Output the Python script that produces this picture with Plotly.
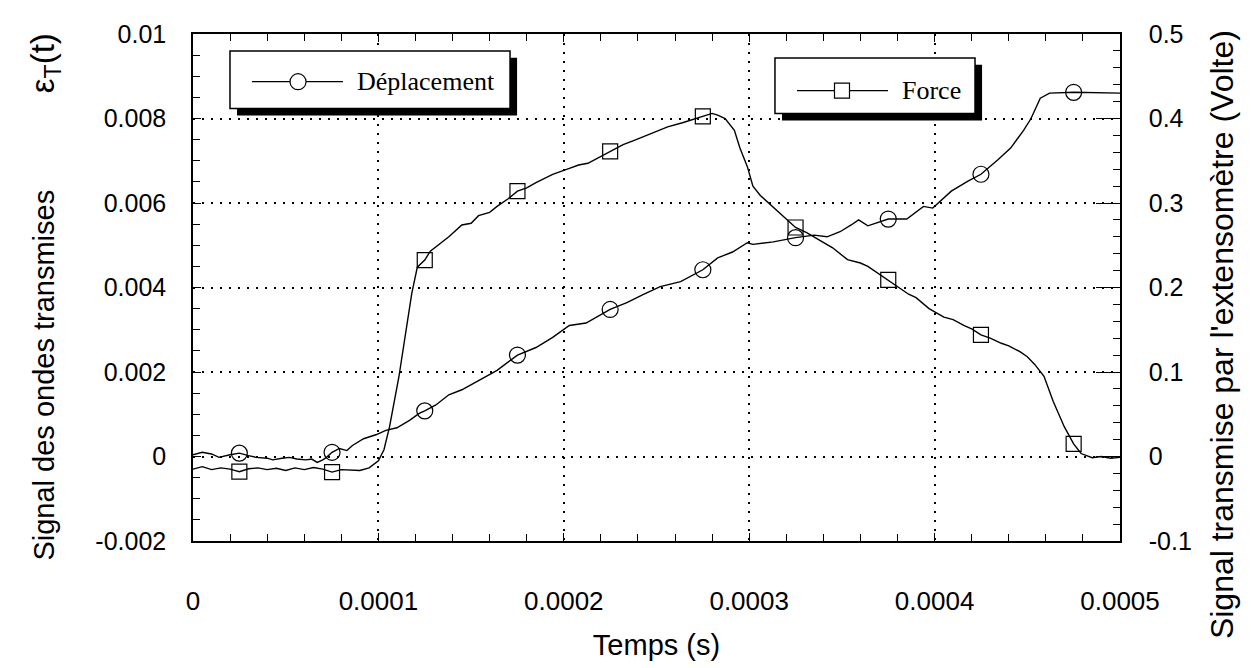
import plotly.graph_objects as go

# Force (onde transmise, axe gauche)
force_t = [0, 0.000005, 0.00001, 0.000015, 0.00002, 0.000025, 0.00003, 0.000035, 0.00004, 0.000045,
           0.00005, 0.000055, 0.00006, 0.000065, 0.00007, 0.000075, 0.00008, 0.000085, 0.00009, 0.000095,
           0.0001, 0.000103, 0.000106, 0.000111, 0.000115, 0.000118, 0.000121, 0.000125, 0.000128, 0.000133,
           0.000138, 0.000145, 0.00015, 0.000154, 0.00016, 0.000164, 0.00017, 0.000175, 0.00018, 0.000185,
           0.00019, 0.000194, 0.000203, 0.000208, 0.000213, 0.000221, 0.000225, 0.000232, 0.000238, 0.000246,
           0.00025, 0.000256, 0.000264, 0.00027, 0.000275, 0.00028, 0.000283, 0.000287, 0.000292, 0.000295,
           0.000299, 0.000302, 0.000306, 0.000311, 0.000317, 0.000321, 0.000325, 0.000331, 0.000338, 0.000345,
           0.000353, 0.00036, 0.000364, 0.00037, 0.000375, 0.00038, 0.000386, 0.00039, 0.000397, 0.000405,
           0.00041, 0.000416, 0.00042, 0.000425, 0.00043, 0.000436, 0.00044, 0.000446, 0.00045, 0.000454,
           0.000459, 0.000464, 0.00047, 0.000475, 0.000479, 0.000485, 0.00049, 0.000495, 0.0005]
force_v = [-0.00030, -0.00024, -0.00031, -0.00027, -0.00030, -0.00036, -0.00029, -0.00027, -0.00031, -0.00028,
           -0.00033, -0.00027, -0.00031, -0.00026, -0.00030, -0.00037, -0.00031, -0.00032, -0.00033, -0.00027,
           -0.00010, 0.00016, 0.00070, 0.00187, 0.00300, 0.00386, 0.00448, 0.00465, 0.00486, 0.00502,
           0.00520, 0.00548, 0.00552, 0.00570, 0.00578, 0.00592, 0.00610, 0.00628, 0.00636, 0.00648,
           0.00660, 0.00668, 0.00682, 0.00690, 0.00694, 0.00712, 0.00722, 0.00738, 0.00748, 0.00762,
           0.00770, 0.00780, 0.00790, 0.00798, 0.00805, 0.00812, 0.00808, 0.00800, 0.00772, 0.00730,
           0.00686, 0.00640, 0.00618, 0.00598, 0.00572, 0.00558, 0.00542, 0.00530, 0.00512, 0.00494,
           0.00466, 0.00458, 0.00450, 0.00432, 0.00418, 0.00402, 0.00384, 0.00376, 0.00350, 0.00330,
           0.00324, 0.00310, 0.00302, 0.00288, 0.00280, 0.00268, 0.00262, 0.00248, 0.00236, 0.00218,
           0.00190, 0.00130, 0.00070, 0.00030, 0.00007, -0.00003, 0.00000, -0.00004, -0.00002]

# Déplacement (extensomètre, axe droit, Volte)
depl_t = [0, 0.000005, 0.00001, 0.000014, 0.00002, 0.000025, 0.00003, 0.000034, 0.00004, 0.000043,
          0.000048, 0.000052, 0.000056, 0.000061, 0.000064, 0.000067, 0.00007, 0.000072, 0.000075, 0.000079,
          0.000083, 0.000086, 0.000092, 0.000099, 0.000104, 0.00011, 0.000117, 0.000122, 0.000125, 0.000131,
          0.000138, 0.000145, 0.000155, 0.000164, 0.000175, 0.000185, 0.000194, 0.000203, 0.000212, 0.000221,
          0.000225, 0.000234, 0.000243, 0.000252, 0.000263, 0.000275, 0.000283, 0.000291, 0.000299, 0.000302,
          0.000313, 0.000325, 0.000335, 0.000342, 0.000349, 0.000355, 0.000359, 0.000364, 0.000375, 0.000385,
          0.000394, 0.000399, 0.000409, 0.000418, 0.000425, 0.000434, 0.000441, 0.000448, 0.000452, 0.000457,
          0.000462, 0.000475, 0.00049, 0.0005]
depl_v = [0.002, 0.005, 0.003, -0.001, 0.002, 0.004, 0.001, -0.001, -0.002, -0.004,
          -0.002, -0.001, -0.003, -0.004, -0.003, -0.007, -0.004, -0.001, 0.005, 0.0095,
          0.007, 0.013, 0.021, 0.026, 0.031, 0.034, 0.043, 0.051, 0.054, 0.061,
          0.073, 0.079, 0.091, 0.102, 0.120, 0.129, 0.141, 0.155, 0.158, 0.169,
          0.174, 0.182, 0.192, 0.201, 0.207, 0.221, 0.235, 0.242, 0.253, 0.251,
          0.254, 0.259, 0.262, 0.260, 0.266, 0.274, 0.280, 0.273, 0.281, 0.281,
          0.296, 0.294, 0.314, 0.326, 0.334, 0.351, 0.365, 0.386, 0.400, 0.424,
          0.430, 0.431, 0.430, 0.430]

marker_t = [0.000025, 0.000075, 0.000125, 0.000175, 0.000225,
            0.000275, 0.000325, 0.000375, 0.000425, 0.000475]

x_ticks = [0, 0.0001, 0.0002, 0.0003, 0.0004, 0.0005]
x_labels = ["0", "0.0001", "0.0002", "0.0003", "0.0004", "0.0005"]
y_ticks = [-0.002, 0, 0.002, 0.004, 0.006, 0.008, 0.01]
y_labels = ["-0.002", "0", "0.002", "0.004", "0.006", "0.008", "0.01"]
y2_ticks = [-0.1, 0, 0.1, 0.2, 0.3, 0.4, 0.5]
y2_labels = ["-0.1", "0", "0.1", "0.2", "0.3", "0.4", "0.5"]


def pick(ts, vs, wanted):
    d = {round(t * 1e7): v for t, v in zip(ts, vs)}
    return [d[round(t * 1e7)] for t in wanted]


fig = go.Figure()
fig.add_trace(go.Scatter(x=force_t, y=force_v, mode="lines",
                         line=dict(color="black", width=1.4), showlegend=False))
fig.add_trace(go.Scatter(x=marker_t, y=pick(force_t, force_v, marker_t), mode="markers",
                         marker=dict(symbol="square-open", size=15, color="black", line=dict(width=1.2)),
                         showlegend=False))
fig.add_trace(go.Scatter(x=depl_t, y=depl_v, mode="lines", yaxis="y2",
                         line=dict(color="black", width=1.4), showlegend=False))
fig.add_trace(go.Scatter(x=marker_t, y=pick(depl_t, depl_v, marker_t), mode="markers", yaxis="y2",
                         marker=dict(symbol="circle-open", size=16, color="black", line=dict(width=1.2)),
                         showlegend=False))

ytickfont = dict(family="Liberation Sans", size=25, color="black")
xtickfont = dict(family="Liberation Sans", size=26, color="black")
titlefont = dict(family="Liberation Sans", size=29, color="black")
griddash = "2px,7px"

# la page ajoute une marge de 8 px autour du graphique
fig.update_layout(
    width=1243, height=660,
    margin=dict(l=185, r=131, t=25, b=125),
    plot_bgcolor="white", paper_bgcolor="white",
    xaxis=dict(range=[0, 0.0005], tickmode="array", tickvals=x_ticks, ticktext=x_labels,
               ticks="inside", ticklen=8, tickwidth=1.2, tickcolor="black",
               showline=True, linecolor="black", linewidth=1.5, mirror="ticks",
               showgrid=True, gridcolor="black", griddash=griddash, gridwidth=1.5,
               zeroline=False, tickfont=xtickfont, ticklabelstandoff=36,
               minor=dict(tickmode="linear", tick0=0, dtick=0.00002, ticks="inside",
                          ticklen=7, tickcolor="black", tickwidth=1.2, showgrid=False),
               title=dict(text="Temps (s)", font=titlefont, standoff=20)),
    yaxis=dict(range=[-0.002, 0.01], tickmode="array", tickvals=y_ticks, ticktext=y_labels,
               ticks="inside", ticklen=8, tickwidth=1.2, tickcolor="black",
               showline=True, linecolor="black", linewidth=1.5,
               showgrid=True, gridcolor="black", griddash=griddash, gridwidth=1.5,
               zeroline=False, tickfont=ytickfont, ticklabelstandoff=20,
               minor=dict(tickmode="linear", tick0=0, dtick=0.0005, ticks="inside",
                          ticklen=7, tickcolor="black", tickwidth=1.2, showgrid=False)),
    yaxis2=dict(range=[-0.1, 0.5], overlaying="y", side="right",
                tickmode="array", tickvals=y2_ticks, ticktext=y2_labels,
                ticks="inside", ticklen=24, tickwidth=1.2, tickcolor="black",
                showline=True, linecolor="black", linewidth=1.5,
                showgrid=False, zeroline=False, tickfont=ytickfont, ticklabelstandoff=22,
                minor=dict(tickmode="linear", tick0=0, dtick=0.02, ticks="inside",
                           ticklen=7, tickcolor="black", tickwidth=1.2, showgrid=False)),
)

# titres verticaux
fig.add_annotation(x=-0.1597, y=0.482, xref="paper", yref="paper", textangle=-90,
                   text="Signal des ondes transmises" + "\u00a0" * 12 +
                        "<span style='font-size:33px'>ε<sub>T</sub>(t)</span>",
                   showarrow=False, xanchor="center", yanchor="middle", font=titlefont)
fig.add_annotation(x=1.110, y=0.408, xref="paper", yref="paper", textangle=-90,
                   text="Signal transmise par l'extensomètre (Volte)",
                   showarrow=False, xanchor="center", yanchor="middle",
                   font=dict(family="Liberation Sans", size=32, color="black"))

# cadres de légende avec ombre
sx, sy = 0.0076, 0.0137
boxes = [(0.0399, 0.8529, 0.3420, 0.9667), (0.6278, 0.8431, 0.8436, 0.9529)]
shapes = []
for x0, y0, x1, y1 in boxes:
    shapes.append(dict(type="rect", xref="paper", yref="paper", x0=x0 + sx, x1=x1 + sx,
                       y0=y0 - sy, y1=y1 - sy, fillcolor="black", line=dict(width=0), layer="above"))
    shapes.append(dict(type="rect", xref="paper", yref="paper", x0=x0, x1=x1, y0=y0, y1=y1,
                       fillcolor="white", line=dict(color="black", width=1.5), layer="above"))

# Déplacement
shapes.append(dict(type="line", xref="paper", yref="paper", x0=0.0637, x1=0.1618, y0=0.9059, y1=0.9059,
                   line=dict(color="black", width=1.3), layer="above"))
shapes.append(dict(type="circle", xref="paper", yref="paper", xsizemode="pixel", ysizemode="pixel",
                   xanchor=0.1133, yanchor=0.9059, x0=-8, x1=8, y0=-8, y1=8,
                   fillcolor="white", line=dict(color="black", width=1.2), layer="above"))
# Force
shapes.append(dict(type="line", xref="paper", yref="paper", x0=0.6516, x1=0.7497, y0=0.8882, y1=0.8882,
                   line=dict(color="black", width=1.3), layer="above"))
shapes.append(dict(type="rect", xref="paper", yref="paper", xsizemode="pixel", ysizemode="pixel",
                   xanchor=0.7001, yanchor=0.8882, x0=-7.5, x1=7.5, y0=-7.5, y1=7.5,
                   fillcolor="white", line=dict(color="black", width=1.2), layer="above"))

fig.update_layout(shapes=shapes)

legfont = dict(family="Liberation Serif", size=26, color="black")
fig.add_annotation(x=0.1748, y=0.9059, xref="paper", yref="paper", text="Déplacement",
                   showarrow=False, xanchor="left", yanchor="middle", font=legfont)
fig.add_annotation(x=0.7627, y=0.8882, xref="paper", yref="paper", text="Force",
                   showarrow=False, xanchor="left", yanchor="middle", font=legfont)

fig.write_html("out.html")
